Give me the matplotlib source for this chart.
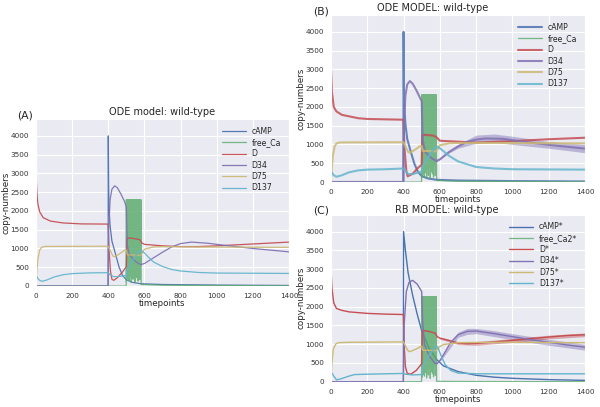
import numpy as np
import matplotlib
matplotlib.use("Agg")
import matplotlib.pyplot as plt
import seaborn as sns

# ---- data (timepoint, copy-number) ----
labels_ode = ["cAMP", "free_Ca", "D", "D34", "D75", "D137"]
labels_rb = ["cAMP*", "free_Ca2*", "D*", "D34*", "D75*", "D137*"]
colors = ["#4C72B0", "#55A868", "#C44E52", "#8172B2", "#CCB974", "#64B5CD"]

# free_Ca burst between t=500 and t=580 (fast oscillation)
burst_t = np.arange(500, 581, 1)
burst_lows = [120, 900, 300, 1400, 200, 700, 1100, 150, 500, 1300,
              250, 800, 1600, 100, 600, 1000, 350, 1200, 180, 900,
              1500, 400, 1100, 90, 750, 1350, 280, 950, 1700, 220,
              650, 1250, 130, 850, 1450, 450, 1050, 170, 1550, 550]

# (A) ODE model
a_camp = [(0, 0), (399, 0), (400, 4000), (402, 2600), (405, 2000), (410, 1600),
          (420, 1200), (440, 850), (460, 500), (480, 270), (500, 170), (530, 100),
          (580, 60), (700, 40), (1000, 25), (1400, 15)]
a_ca_peak = 2300
a_ca_tail = [(582, 40), (700, 20), (1400, 5)]
a_d = [(0, 3000), (5, 2500), (10, 2200), (20, 1980), (40, 1820), (80, 1730),
       (150, 1680), (250, 1655), (399, 1650), (405, 900), (412, 400), (420, 180),
       (430, 150), (450, 220), (480, 380), (500, 520), (503, 1270), (520, 1280),
       (560, 1250), (575, 1230), (585, 1150), (600, 1110), (700, 1070), (800, 1050),
       (900, 1050), (1000, 1070), (1200, 1120), (1400, 1170)]
a_d34 = [(0, 0), (399, 0), (402, 1500), (410, 2300), (420, 2580), (435, 2670),
         (450, 2620), (470, 2450), (490, 2250), (500, 2100), (505, 1100), (515, 850),
         (540, 700), (560, 620), (580, 570), (600, 600), (650, 750), (700, 900),
         (750, 1040), (800, 1130), (860, 1170), (950, 1140), (1050, 1080),
         (1200, 1000), (1400, 910)]
a_d75 = [(0, 0), (5, 400), (10, 700), (20, 950), (30, 1030), (50, 1055), (399, 1060),
         (410, 950), (425, 800), (435, 780), (460, 850), (490, 950), (500, 960),
         (505, 830), (580, 820), (590, 900), (600, 980), (650, 1040), (700, 1050),
         (900, 1040), (1400, 1030)]
a_d137 = [(0, 180), (5, 250), (10, 200), (20, 150), (35, 125), (60, 160), (100, 240),
          (150, 300), (200, 330), (300, 350), (399, 355), (410, 300), (430, 250),
          (450, 250), (500, 280), (503, 420), (520, 560), (540, 720), (560, 860),
          (580, 950), (600, 880), (620, 780), (650, 640), (700, 520), (750, 440),
          (800, 400), (900, 360), (1000, 345), (1400, 335)]

# (B) ODE MODEL (stochastic runs)
b_camp = [(0, 0), (399, 0), (400, 4000), (402, 2500), (405, 1900), (410, 1550),
          (420, 1150), (440, 800), (460, 480), (480, 260), (500, 160), (530, 100),
          (580, 60), (700, 40), (1000, 25), (1400, 15)]
b_ca_peak = 2320
b_ca_tail = [(582, 40), (700, 20), (1400, 5)]
b_d = [(0, 3000), (5, 2400), (15, 2000), (30, 1880), (60, 1790), (100, 1750),
       (150, 1700), (200, 1680), (399, 1660), (405, 900), (415, 300), (422, 150),
       (450, 220), (480, 380), (500, 460), (503, 1260), (560, 1240), (580, 1200),
       (600, 1100), (800, 1050), (1000, 1090), (1200, 1140), (1400, 1180)]
b_d34 = [(0, 0), (399, 0), (402, 1500), (410, 2300), (420, 2600), (435, 2690),
         (450, 2620), (470, 2450), (500, 2150), (505, 1100), (520, 800), (550, 650),
         (580, 560), (600, 600), (650, 800), (700, 950), (750, 1070), (800, 1130),
         (850, 1160), (950, 1150), (1050, 1080), (1200, 990), (1400, 890)]
b_d34_band = [(580, 540, 580), (650, 770, 830), (700, 900, 1000), (800, 1030, 1250),
              (900, 1060, 1280), (1000, 1000, 1220), (1200, 900, 1080), (1400, 780, 1000)]
b_d75 = [(0, 0), (5, 400), (10, 700), (20, 950), (30, 1030), (50, 1055), (399, 1060),
         (410, 950), (425, 800), (435, 780), (460, 850), (490, 950), (500, 960),
         (505, 830), (580, 820), (590, 900), (600, 980), (650, 1030), (700, 1040),
         (900, 1040), (1400, 1030)]
b_d137 = [(0, 200), (5, 250), (15, 180), (30, 140), (60, 180), (100, 260), (150, 310),
          (200, 330), (300, 340), (399, 360), (410, 300), (425, 210), (450, 210),
          (500, 280), (505, 430), (540, 700), (580, 950), (600, 900), (650, 700),
          (700, 550), (800, 400), (900, 360), (1000, 340), (1400, 330)]

# (C) RB MODEL
c_camp = [(0, 0), (399, 0), (400, 4000), (410, 3500), (425, 2900), (450, 2300),
          (475, 1800), (500, 1350), (540, 900), (580, 600), (620, 420), (700, 270),
          (800, 170), (900, 120), (1000, 90), (1200, 55), (1400, 35)]
c_ca_peak = 2260
c_ca_tail = [(582, 10), (700, 5), (1400, 0)]
c_d = [(0, 3000), (5, 2500), (15, 2100), (30, 1950), (60, 1900), (100, 1860),
       (200, 1820), (300, 1800), (399, 1790), (403, 1000), (410, 400), (420, 220),
       (440, 200), (470, 300), (500, 480), (503, 1370), (540, 1340), (575, 1290),
       (585, 1200), (600, 1160), (650, 1100), (700, 1030), (750, 1010), (800, 1020),
       (900, 1060), (1000, 1100), (1100, 1150), (1200, 1190), (1300, 1230), (1400, 1250)]
c_d_band = [(600, 1130, 1190), (700, 990, 1070), (800, 970, 1070), (1000, 1050, 1150),
            (1200, 1140, 1240), (1400, 1200, 1300)]
c_d34 = [(0, 0), (399, 0), (403, 1500), (415, 2400), (430, 2650), (450, 2700),
         (475, 2600), (500, 2400), (505, 1600), (515, 1000), (540, 700), (570, 500),
         (585, 480), (600, 560), (630, 800), (660, 1050), (700, 1250), (750, 1340),
         (800, 1350), (900, 1280), (1000, 1200), (1100, 1120), (1200, 1050),
         (1300, 980), (1400, 920)]
c_d34_band = [(600, 530, 590), (700, 1180, 1320), (750, 1260, 1420), (800, 1280, 1420),
              (900, 1200, 1360), (1000, 1120, 1280), (1200, 970, 1130), (1400, 840, 1000)]
c_d75 = [(0, 0), (5, 500), (12, 850), (25, 1000), (40, 1040), (100, 1050), (399, 1060),
         (410, 950), (425, 820), (435, 800), (470, 870), (500, 950), (505, 840),
         (580, 830), (595, 920), (620, 990), (700, 1040), (900, 1050), (1400, 1040)]
c_d137 = [(0, 200), (5, 230), (15, 150), (30, 50), (50, 70), (100, 150), (130, 190),
          (200, 200), (300, 210), (399, 220), (410, 200), (450, 180), (500, 190),
          (505, 400), (540, 700), (580, 950), (590, 900), (610, 650), (630, 450),
          (660, 300), (700, 230), (800, 210), (1000, 210), (1400, 210)]


def ca_series(peak, tail):
    t = [0, 499]
    v = [0, 0]
    for i, ti in enumerate(burst_t):
        t.append(ti)
        v.append(peak if i % 2 == 0 else burst_lows[i // 2])
    for ti, vi in tail:
        t.append(ti)
        v.append(vi)
    return t, v


def unzip(pts):
    return [p[0] for p in pts], [p[1] for p in pts]


def draw_panel(ax, series, labels, lw, alpha, bands):
    for k, (pts, lab, col) in enumerate(zip(series, labels, colors)):
        if k == 1:
            t, v = pts
            ax.plot(t, v, color=col, lw=0.9, alpha=0.8, label=lab)
        else:
            t, v = unzip(pts)
            ax.plot(t, v, color=col, lw=lw, alpha=alpha, label=lab)
    for band, col in bands:
        bt = [b[0] for b in band]
        ax.fill_between(bt, [b[1] for b in band], [b[2] for b in band],
                        color=col, alpha=0.45, lw=0)
    ax.set_xlim(0, 1400)
    ax.set_ylim(0, 4450)
    ax.set_xticks([0, 200, 400, 600, 800, 1000, 1200, 1400])
    ax.set_yticks([0, 500, 1000, 1500, 2000, 2500, 3000, 3500, 4000])
    ax.tick_params(labelsize=5.2, pad=1.5, colors="#333333")
    ax.set_xlabel("timepoints", fontsize=6.3, labelpad=0)
    ax.set_ylabel("copy-numbers", fontsize=6.3, labelpad=0)
    ax.legend(loc="upper right", frameon=False, fontsize=5.6, handlelength=3,
              labelspacing=0.3, borderaxespad=0.6)


sns.set_style("darkgrid")
plt.rcParams["font.family"] = ["DejaVu Sans"]

fig = plt.figure(figsize=(6.0, 4.07), dpi=100)

ax_a = fig.add_axes([0.06, 0.2973, 0.4217, 0.4103])
ax_b = fig.add_axes([0.5517, 0.5528, 0.4233, 0.4103])
ax_c = fig.add_axes([0.5517, 0.0622, 0.4233, 0.4103])

draw_panel(ax_a, [a_camp, ca_series(a_ca_peak, a_ca_tail), a_d, a_d34, a_d75, a_d137],
           labels_ode, 0.9, 0.95, [])
draw_panel(ax_b, [b_camp, ca_series(b_ca_peak, b_ca_tail), b_d, b_d34, b_d75, b_d137],
           labels_ode, 1.5, 0.85, [(b_d34_band, colors[3])])
draw_panel(ax_c, [c_camp, ca_series(c_ca_peak, c_ca_tail), c_d, c_d34, c_d75, c_d137],
           labels_rb, 1.0, 1.0, [(c_d34_band, colors[3]), (c_d_band, colors[2])])

ax_a.set_title("ODE model: wild-type", fontsize=7, pad=3)
ax_b.text(0.40, 1.01, "ODE MODEL: wild-type", transform=ax_b.transAxes,
          ha="center", va="bottom", fontsize=7)
ax_c.text(0.457, 0.998, "RB MODEL: wild-type", transform=ax_c.transAxes,
          ha="center", va="bottom", fontsize=7)

fig.text(17 / 600, 1 - 115 / 407, "(A)", fontsize=7.8, va="center")
fig.text(313 / 600, 1 - 11 / 407, "(B)", fontsize=7.8, va="center")
fig.text(313 / 600, 1 - 210 / 407, "(C)", fontsize=7.8, va="center")

fig.savefig("out.png", dpi=100)
